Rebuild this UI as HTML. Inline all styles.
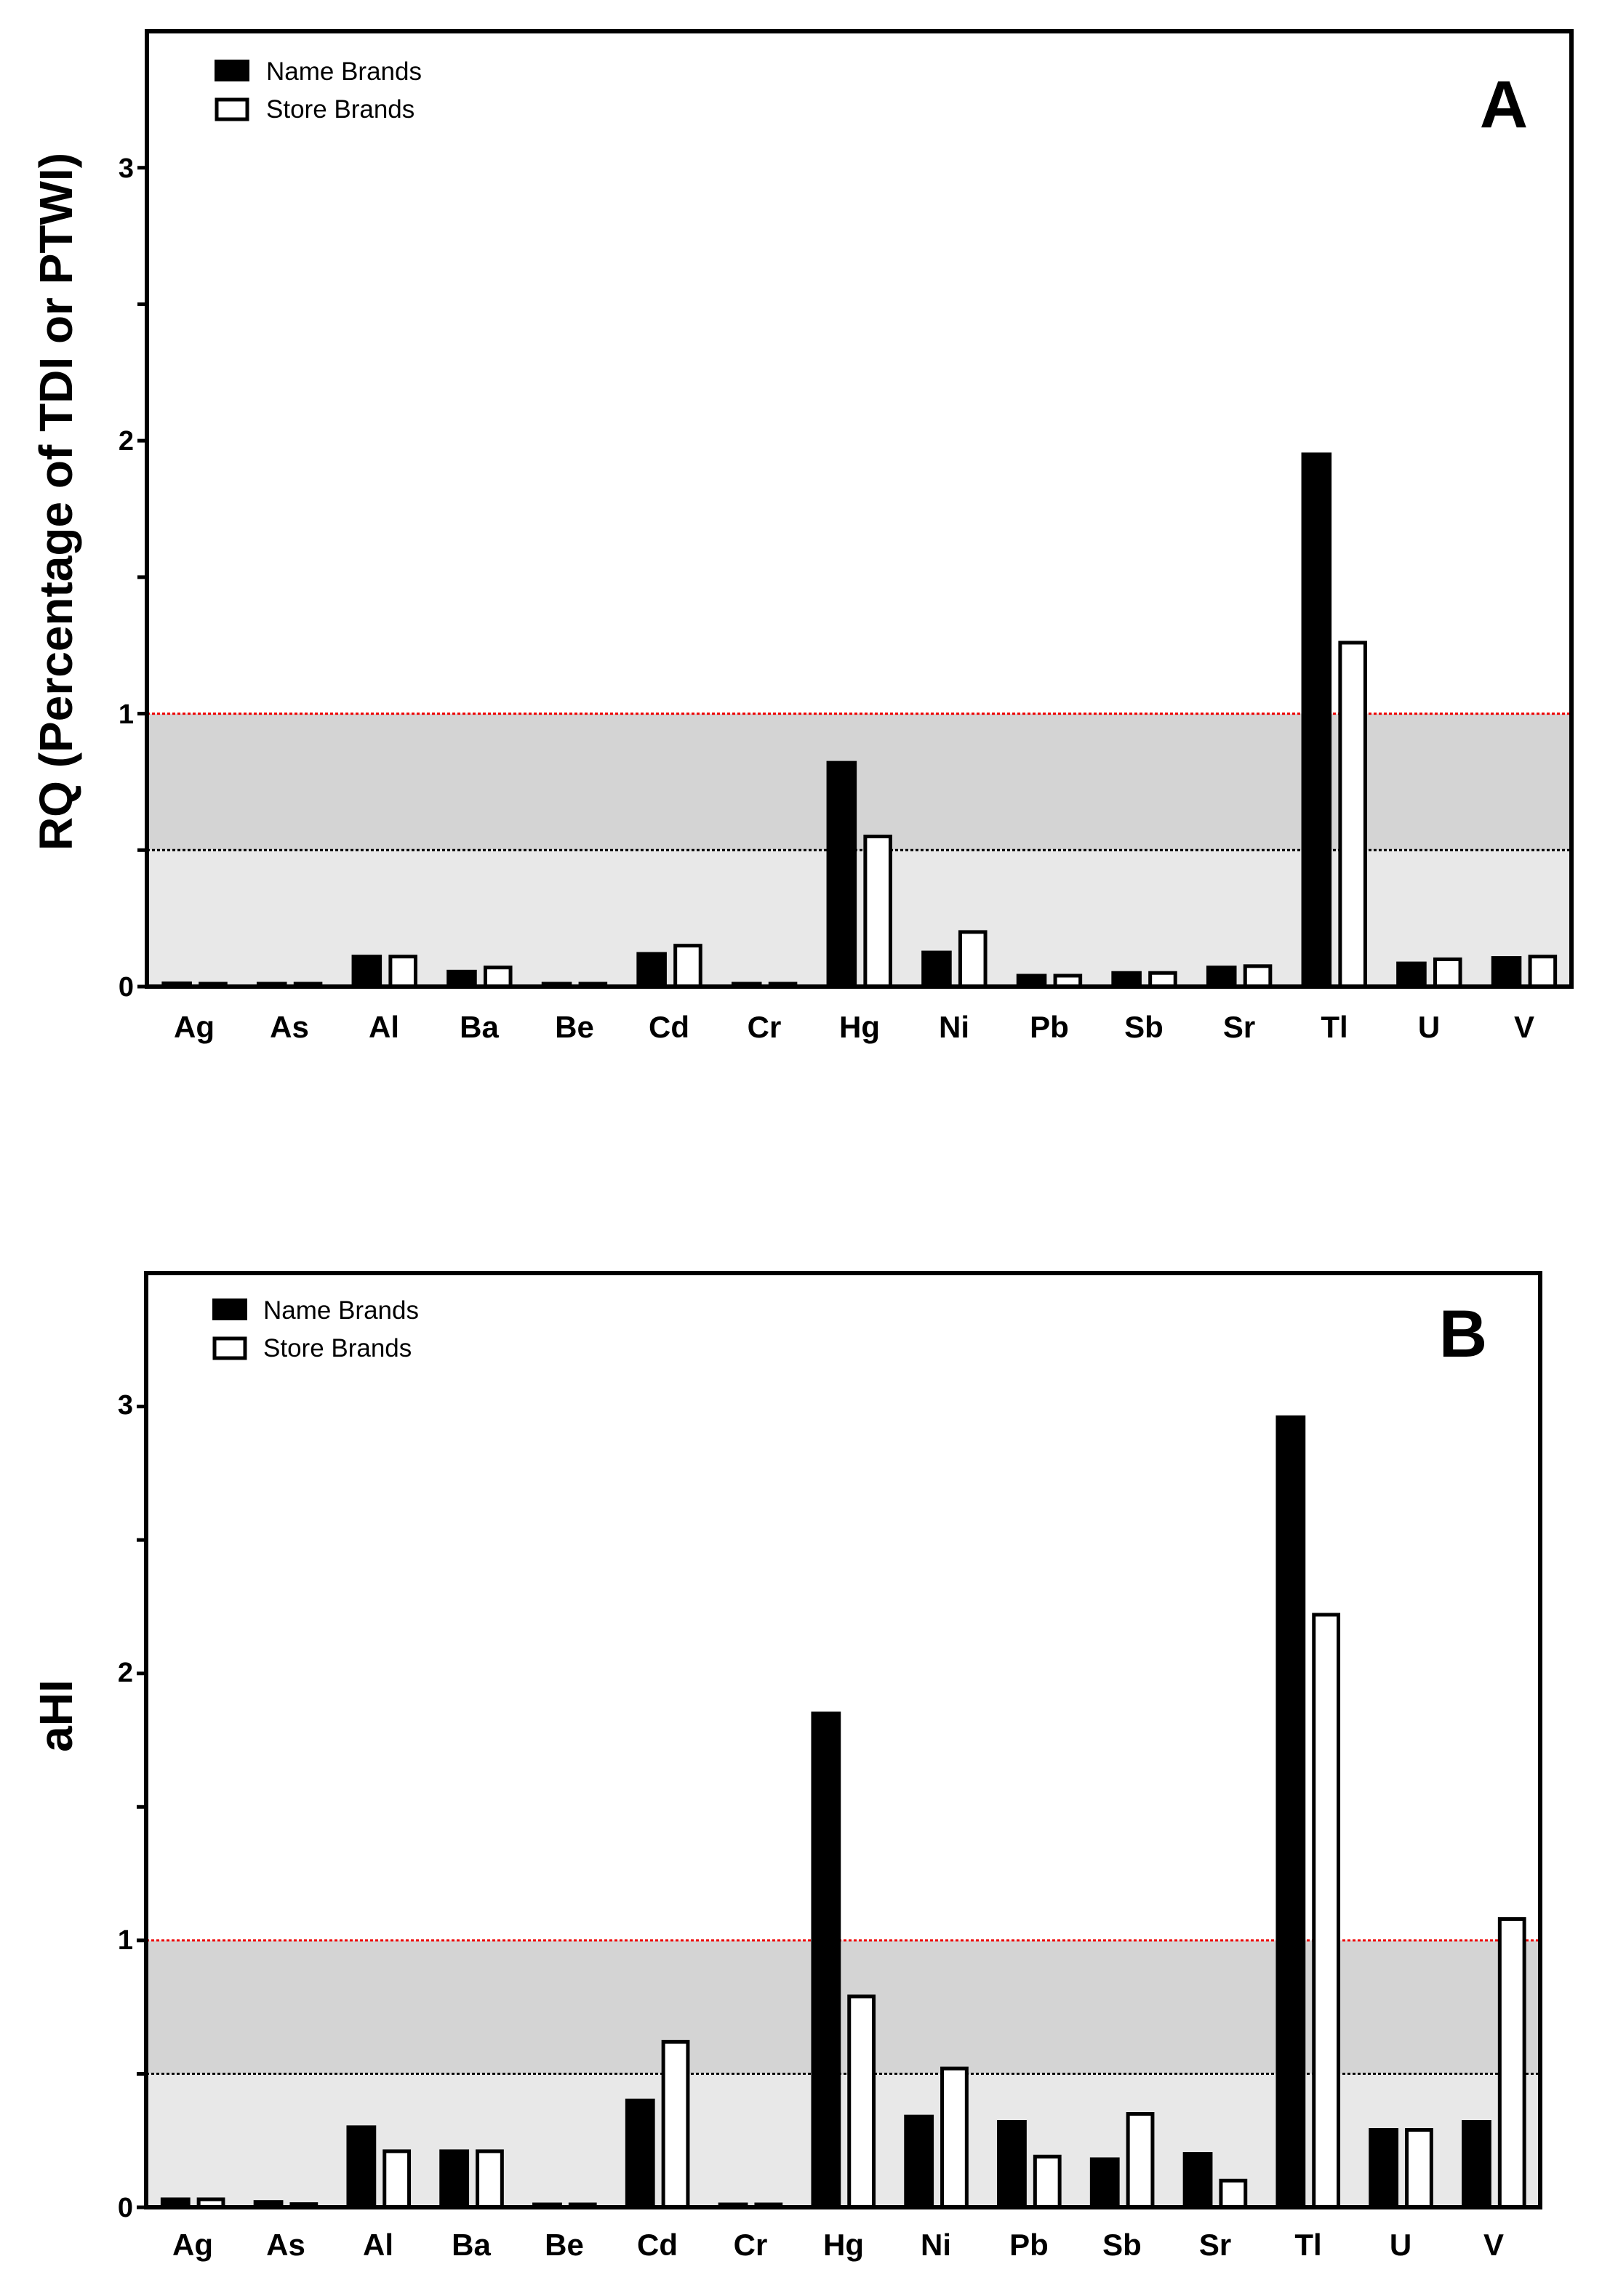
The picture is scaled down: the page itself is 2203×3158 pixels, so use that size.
<!DOCTYPE html>
<html><head><meta charset="utf-8"><style>
html,body{margin:0;padding:0;background:#fff}
svg{display:block}
text{font-family:"Liberation Sans",Arial,sans-serif}
</style></head><body>
<svg id="s" width="2203" height="3158" viewBox="0 0 2203 3158" xmlns="http://www.w3.org/2000/svg">
<g id="A"></g><g id="B"></g>
<g font-weight="bold" font-size="38" text-anchor="end">
<text x="184" y="1370">0</text><text x="184" y="995">1</text><text x="184" y="619">2</text><text x="184" y="244">3</text>
<text x="183" y="3049">0</text><text x="183" y="2681">1</text><text x="183" y="2313">2</text><text x="183" y="1945">3</text>
</g>
<text transform="translate(99,690) rotate(-90)" font-size="64" font-weight="bold" text-anchor="middle">RQ (Percentage of TDI or PTWI)</text>
<text transform="translate(99,2360) rotate(-90)" font-size="64" font-weight="bold" text-anchor="middle">aHI</text>
<text x="2068" y="175" font-size="92" font-weight="bold" text-anchor="middle">A</text>
<text x="2012" y="1866" font-size="92" font-weight="bold" text-anchor="middle">B</text>
<g font-size="35">
<text x="366" y="110">Name Brands</text><text x="366" y="162">Store Brands</text>
<text x="362" y="1814">Name Brands</text><text x="362" y="1866">Store Brands</text>
</g>
<rect x="295" y="82" width="48" height="30" fill="#000"/>
<rect x="298" y="137" width="42" height="27" fill="#fff" stroke="#000" stroke-width="5"/>
<rect x="292" y="1786" width="48" height="30" fill="#000"/>
<rect x="295" y="1841" width="42" height="27" fill="#fff" stroke="#000" stroke-width="5"/>
<g font-size="42" font-weight="bold" text-anchor="middle">
<text x="267" y="1427">Ag</text><text x="398" y="1427">As</text><text x="528" y="1427">Al</text><text x="659" y="1427">Ba</text><text x="790" y="1427">Be</text><text x="920" y="1427">Cd</text><text x="1051" y="1427">Cr</text><text x="1182" y="1427">Hg</text><text x="1312" y="1427">Ni</text><text x="1443" y="1427">Pb</text><text x="1573" y="1427">Sb</text><text x="1704" y="1427">Sr</text><text x="1835" y="1427">Tl</text><text x="1965" y="1427">U</text><text x="2096" y="1427">V</text>
</g>
<g font-size="42" font-weight="bold" text-anchor="middle">
<text x="265" y="3102">Ag</text><text x="393" y="3102">As</text><text x="520" y="3102">Al</text><text x="648" y="3102">Ba</text><text x="776" y="3102">Be</text><text x="904" y="3102">Cd</text><text x="1032" y="3102">Cr</text><text x="1160" y="3102">Hg</text><text x="1287" y="3102">Ni</text><text x="1415" y="3102">Pb</text><text x="1543" y="3102">Sb</text><text x="1671" y="3102">Sr</text><text x="1799" y="3102">Tl</text><text x="1926" y="3102">U</text><text x="2054" y="3102">V</text>
</g>
</svg>
<script>
function chart(g,L,R,T,Y0,nb,sb){
 var u=(Y0-T)/3.5, W=(R-L)/15, h='';
 function y(v){return Y0-v*u;}
 h+='<rect x="'+L+'" y="'+y(0.5)+'" width="'+(R-L)+'" height="'+(0.5*u)+'" fill="#e8e8e8"/>';
 h+='<rect x="'+L+'" y="'+y(1)+'" width="'+(R-L)+'" height="'+(0.5*u)+'" fill="#d4d4d4"/>';
 h+='<line x1="'+L+'" x2="'+R+'" y1="'+y(1)+'" y2="'+y(1)+'" stroke="#e00" stroke-width="3" stroke-dasharray="4,3"/>';
 h+='<line x1="'+L+'" x2="'+R+'" y1="'+y(0.5)+'" y2="'+y(0.5)+'" stroke="#000" stroke-width="3" stroke-dasharray="4,3"/>';
 for(var i=0;i<15;i++){
  var c=L+W*(i+0.5), bw=W*0.28, g1=W*0.045;
  var a=nb[i], b=sb[i];
  var ha=Math.max(a*u,4), hb=Math.max(b*u,4);
  h+='<rect x="'+(c-g1-bw)+'" y="'+(Y0-ha)+'" width="'+bw+'" height="'+ha+'" fill="#000" stroke="#000" stroke-width="5"/>';
  h+='<rect x="'+(c+g1+2.5)+'" y="'+(Y0-hb)+'" width="'+(bw-2)+'" height="'+hb+'" fill="#fff" stroke="#000" stroke-width="5"/>';
 }
 h+='<rect x="'+L+'" y="'+T+'" width="'+(R-L)+'" height="'+(Y0-T)+'" fill="none" stroke="#000" stroke-width="6"/>';
 for(var k=0;k<=6;k++){h+='<line x1="'+(L-13)+'" x2="'+L+'" y1="'+y(k*0.5)+'" y2="'+y(k*0.5)+'" stroke="#000" stroke-width="5"/>';}
 document.getElementById(g).innerHTML=h;
}
chart('A',202,2161,43,1357,[0.012,0.003,0.11,0.055,0,0.12,0.001,0.82,0.125,0.04,0.05,0.07,1.95,0.085,0.105],[0.01,0.005,0.11,0.07,0.002,0.15,0.001,0.55,0.2,0.04,0.05,0.075,1.26,0.1,0.11]);
chart('B',201,2118,1751,3036,[0.03,0.02,0.3,0.21,0.01,0.4,0.005,1.85,0.34,0.32,0.18,0.2,2.96,0.29,0.32],[0.03,0.012,0.21,0.21,0.01,0.62,0.005,0.79,0.52,0.19,0.35,0.1,2.22,0.29,1.08]);
</script>
</body></html>
